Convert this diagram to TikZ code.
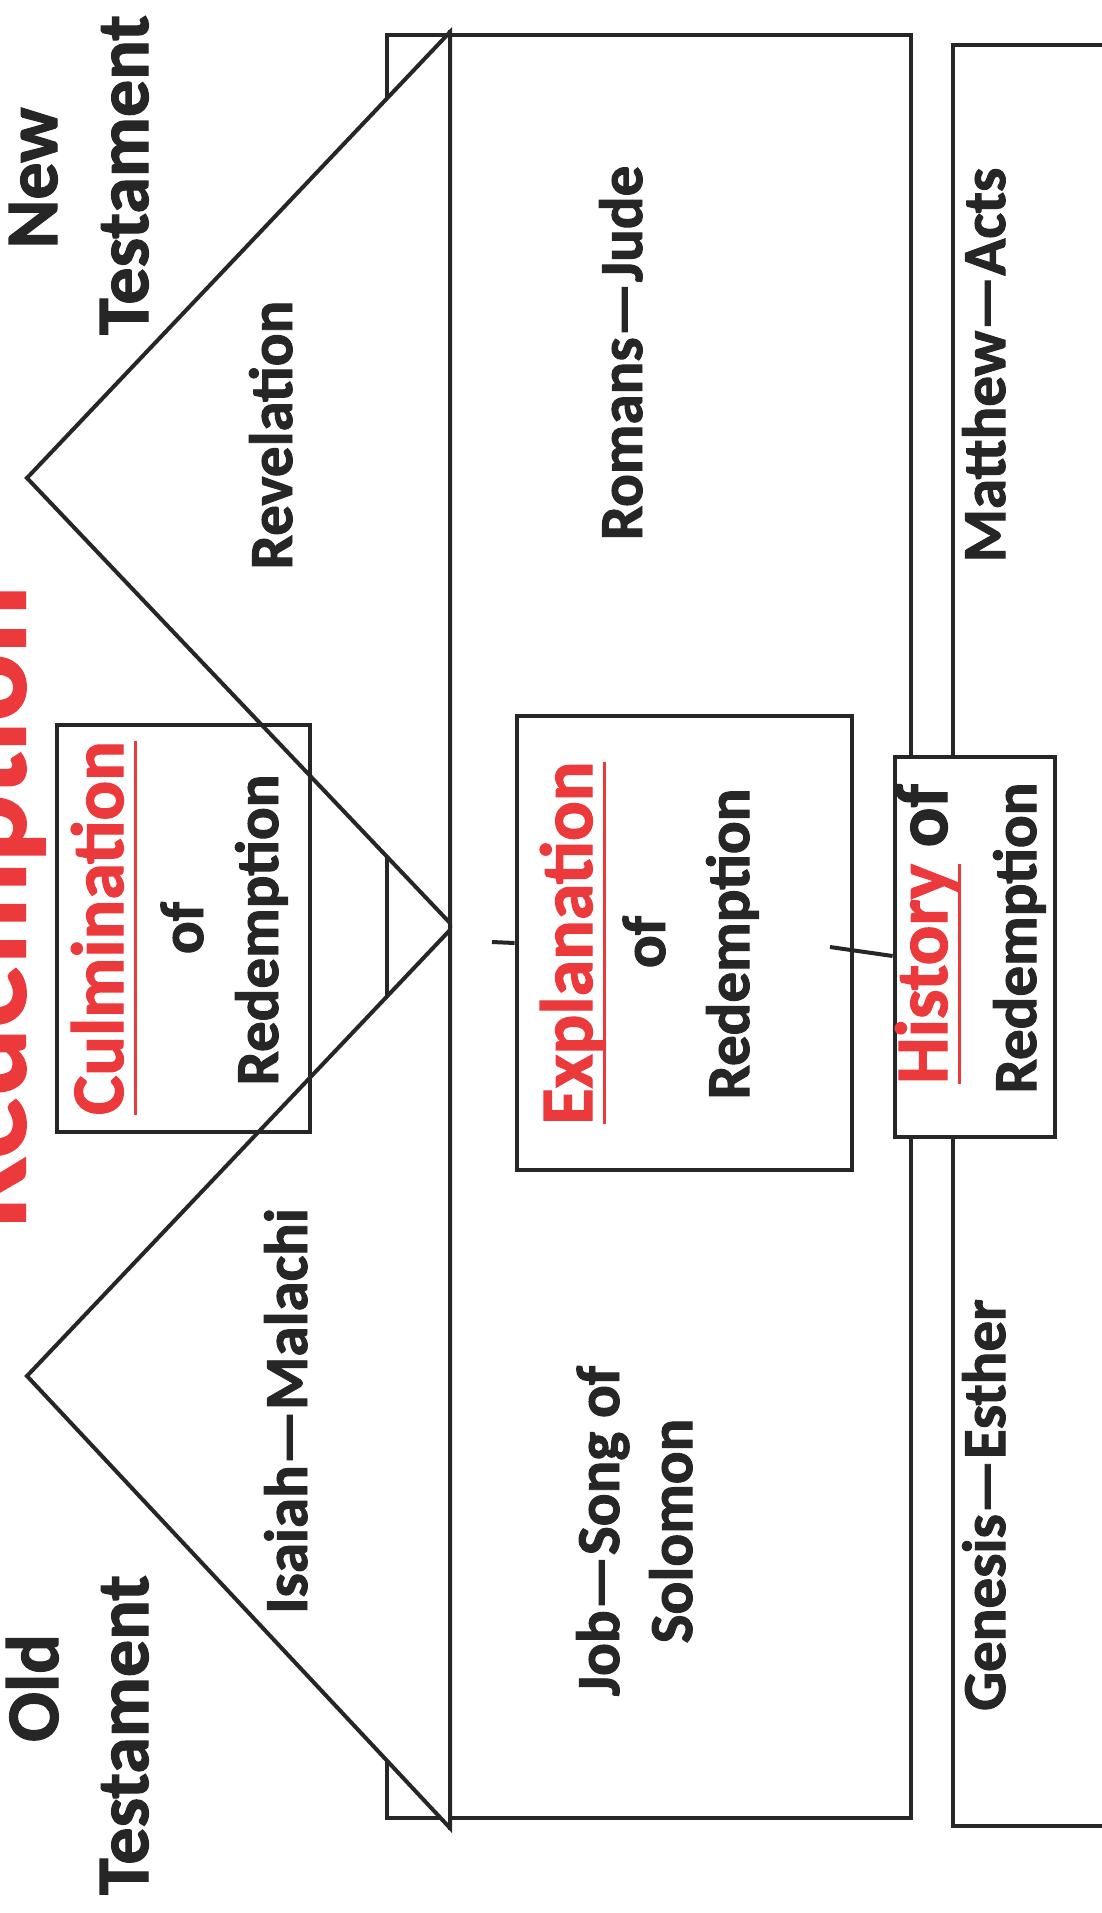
\documentclass[tikz,border=0pt]{standalone}
\usepackage{fontspec}
\setmainfont{Carlito}[BoldFeatures={FakeBold=1.6}]
\definecolor{redem}{RGB}{236,58,60}
\definecolor{ink}{RGB}{38,38,38}
\newcommand{\uword}[1]{\sbox0{#1}\rlap{\rule[-13.5pt]{\wd0}{3pt}}\usebox0}
\tikzset{
  lbl/.style={rotate=90, anchor=base, inner sep=0pt, text=ink, font=\fontsize{61}{66}\selectfont\bfseries},
  big/.style={lbl, font=\fontsize{74}{80}\selectfont\bfseries},
  hot/.style={big, text=redem},
  frame/.style={draw=ink, line width=4pt},
  box/.style={frame, line width=4.8pt, inner sep=0pt},
}
\begin{document}
\begin{tikzpicture}[x=1pt, y=-1pt]
\useasboundingbox (0,0) rectangle (1102,1913);

\draw[frame] (387,35) rectangle (911,1818);
\draw[frame] (1110,45) -- (953,45) -- (953,1826) -- (1110,1826);
\filldraw[frame, fill=white] (450,32) -- (27,478) -- (450,923) -- cycle;
\filldraw[frame, fill=white] (450,930) -- (27,1376) -- (450,1828) -- cycle;
\draw[frame] (450,30) -- (450,1830);

\node[box, minimum width=253pt, minimum height=407pt] (culmbox) at (183.5,928.5) {};
\node[box, minimum width=335pt, minimum height=454pt] (explbox) at (684.5,943) {};
\node[box, fill=white, minimum width=160pt, minimum height=380pt] (histbox) at (975,947) {};

\coordinate (t1) at (492,942);
\coordinate (t2) at (830,947);
\draw[frame] (t1) -- (explbox.west);
\draw[frame] (t2) -- ([yshift=-9pt]histbox.west);

\node[lbl, text=redem, font=\fontsize{126}{130}\selectfont\bfseries] (title) at (25,907) {Redemption};

\node[big] (nt1) at (57,178) {New};
\node[big] (nt2) at (148,175) {Testament};
\node[big] (ot1) at (58,1688) {Old};
\node[big] (ot2) at (148,1735) {Testament};

\node[lbl] (rev) at (292,435) {Revelation};
\node[lbl] (isa) at (307,1411) {Isaiah—Malachi};
\node[lbl] (rom) at (642,353) {Romans—Jude};
\node[lbl] (job1) at (619,1531) {Job—Song of};
\node[lbl] (job2) at (692,1531) {Solomon};
\node[lbl] (mat) at (1005,365) {Matthew—Acts};
\node[lbl] (gen) at (1005,1505) {Genesis—Esther};

\node[hot] (culm1) at (123,928) {\uword{Culmination}};
\node[lbl] (culm2) at (203,928) {of};
\node[lbl] (culm3) at (278,930) {Redemption};

\node[hot] (expl1) at (592,943) {\uword{Explanation}};
\node[lbl] (expl2) at (665,942) {of};
\node[lbl] (expl3) at (749,944) {Redemption};

\node[big] (hist1) at (947,934) {\textcolor{redem}{\uword{History}} of};
\node[lbl] (hist2) at (1036,938) {Redemption};
\end{tikzpicture}
\end{document}
